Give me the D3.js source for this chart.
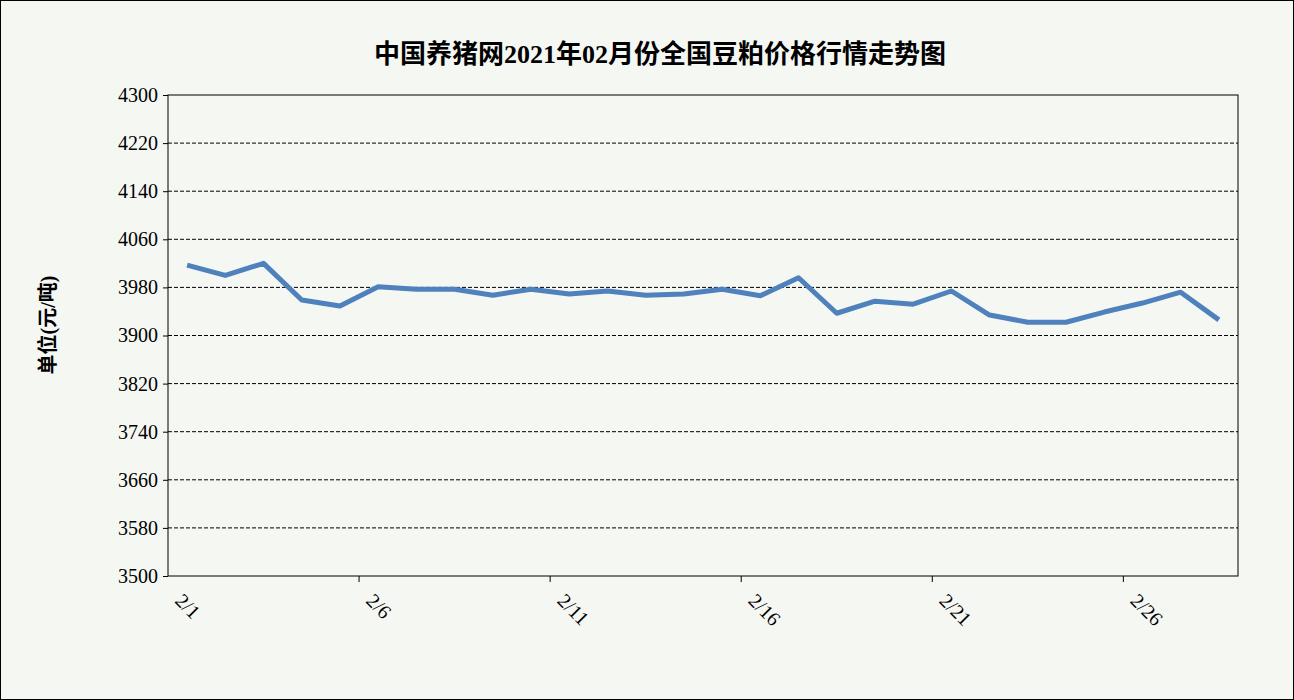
<!DOCTYPE html>
<html><head><meta charset="utf-8">
<script src="https://cdn.jsdelivr.net/npm/d3@7"></script>
<style>body{margin:0;background:#fff}</style></head>
<body><svg id="c" width="1294" height="700"></svg>
<script>
const categories = d3.range(1,29).map(d=>"2/"+d);
const values = [4017,4000,4020,3959,3949,3981,3977,3977,3967,3977,3969,3974,3967,3969,3977,3966,3996,3937,3957,3952,3974,3934,3922,3922,3939,3954,3972,3926];
const yTicks = [3500,3580,3660,3740,3820,3900,3980,4060,4140,4220,4300];
const xTickLabels = ["2/1","2/6","2/11","2/16","2/21","2/26"];
const title = "中国养猪网2021年02月份全国豆粕价格行情走势图";

const svg = d3.select("#c");
const font = "'Liberation Serif','Noto Sans CJK SC',serif";
svg.append("rect").attr("x",0.5).attr("y",0.5).attr("width",1293).attr("height",699).attr("fill","#f5f7f3").attr("stroke","#000");
const L=168,R=1238,T=95,B=576;
const x = d3.scaleBand().domain(categories).range([L,R]);
const y = d3.scaleLinear().domain([3500,4300]).range([B,T]);
const g = svg.append("g");
g.selectAll(".grid").data(yTicks.slice(1,-1)).join("line")
 .attr("x1",L).attr("x2",R).attr("y1",d=>y(d)).attr("y2",d=>y(d))
 .attr("stroke","#000").attr("stroke-dasharray","4,2").attr("stroke-width",1);
g.append("rect").attr("x",L).attr("y",T).attr("width",R-L).attr("height",B-T).attr("fill","none").attr("stroke","#000");
const ya = g.append("g").attr("transform",`translate(${L},0)`).call(d3.axisLeft(y).tickValues(yTicks).tickSize(5).tickFormat(d3.format("d")));
ya.select(".domain").remove();
ya.selectAll("text").attr("font-family",font).attr("font-size",20).attr("fill","#000").attr("dx",-2);
// x ticks at boundaries every 5 days
const step = x.step();
const bounds = [5,10,15,20,25].map(i=>L+i*step);
g.selectAll(".xt").data(bounds).join("line").attr("x1",d=>d).attr("x2",d=>d).attr("y1",B).attr("y2",B+6).attr("stroke","#000");
g.selectAll(".xl").data(xTickLabels).join("text")
 .attr("transform",(d,i)=>`translate(${L+i*5*step+6},${B+26}) rotate(45)`)
 .attr("font-family",font).attr("font-size",20).text(d=>d);
const line = d3.line().x((d,i)=>x(categories[i])+x.bandwidth()/2).y(d=>y(d));
g.append("path").datum(values).attr("d",line).attr("fill","none").attr("stroke","#4f81bd").attr("stroke-width",5).attr("stroke-linejoin","round");
svg.append("text").attr("x",660).attr("y",63).attr("text-anchor","middle").attr("font-family",font).attr("font-weight","bold").attr("font-size",26).text(title);
svg.append("text").attr("transform","translate(55,325) rotate(-90)").attr("text-anchor","middle").attr("font-family",font).attr("font-weight","bold").attr("font-size",20).text("单位(元/吨)");
</script></body></html>
